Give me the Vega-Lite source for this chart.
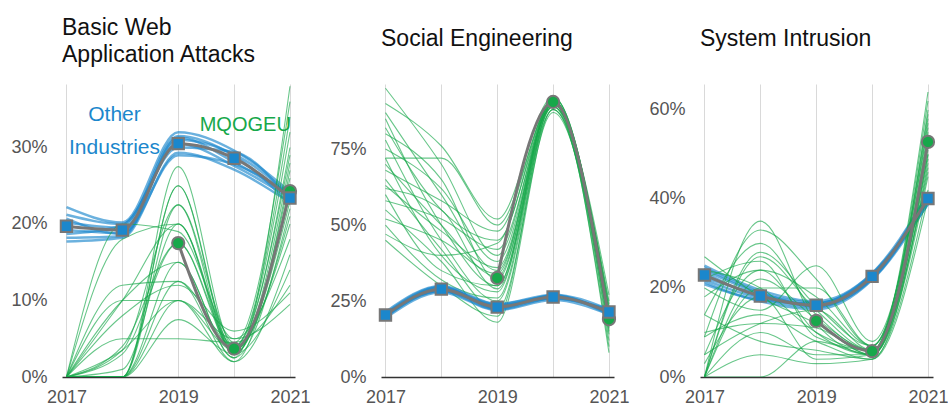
{
  "$schema": "https://vega.github.io/schema/vega-lite/v6.json",
  "padding": {"left": 10, "top": 17, "right": 5, "bottom": 5},
  "background": "white",
  "bounds": "flush",
  "spacing": 86,
  "config": {
    "view": {"stroke": null},
    "font": "Liberation Sans",
    "axis": {"labelFont": "Liberation Sans", "labelFontSize": 18, "labelColor": "#555555", "ticks": false, "domain": false, "grid": false, "title": null},
    "title": {"anchor": "start", "frame": "group", "fontSize": 23, "fontWeight": "normal", "color": "#111111", "font": "Liberation Sans", "lineHeight": 27}
  },
  "datasets": {
    "B": [
      {"s":"g","i":1,"x":2017,"y":0},{"s":"g","i":1,"x":2018,"y":0},{"s":"g","i":1,"x":2019,"y":27.5},{"s":"g","i":1,"x":2020,"y":4},{"s":"g","i":1,"x":2021,"y":34},
      {"s":"g","i":2,"x":2017,"y":0},{"s":"g","i":2,"x":2018,"y":0},{"s":"g","i":2,"x":2019,"y":25},{"s":"g","i":2,"x":2020,"y":3.5},{"s":"g","i":2,"x":2021,"y":30},
      {"s":"g","i":3,"x":2017,"y":0},{"s":"g","i":3,"x":2018,"y":0},{"s":"g","i":3,"x":2019,"y":22.5},{"s":"g","i":3,"x":2020,"y":3},{"s":"g","i":3,"x":2021,"y":28},
      {"s":"g","i":4,"x":2017,"y":0},{"s":"g","i":4,"x":2018,"y":3.5},{"s":"g","i":4,"x":2019,"y":22.5},{"s":"g","i":4,"x":2020,"y":4.5},{"s":"g","i":4,"x":2021,"y":36},
      {"s":"g","i":5,"x":2017,"y":0},{"s":"g","i":5,"x":2018,"y":10},{"s":"g","i":5,"x":2019,"y":20},{"s":"g","i":5,"x":2020,"y":3},{"s":"g","i":5,"x":2021,"y":26},
      {"s":"g","i":6,"x":2017,"y":0},{"s":"g","i":6,"x":2018,"y":4},{"s":"g","i":6,"x":2019,"y":17.5},{"s":"g","i":6,"x":2020,"y":3.5},{"s":"g","i":6,"x":2021,"y":24},
      {"s":"g","i":7,"x":2017,"y":0},{"s":"g","i":7,"x":2018,"y":10},{"s":"g","i":7,"x":2019,"y":15},{"s":"g","i":7,"x":2020,"y":2.5},{"s":"g","i":7,"x":2021,"y":22},
      {"s":"g","i":8,"x":2017,"y":0},{"s":"g","i":8,"x":2018,"y":0},{"s":"g","i":8,"x":2019,"y":12.5},{"s":"g","i":8,"x":2020,"y":4},{"s":"g","i":8,"x":2021,"y":20},
      {"s":"g","i":9,"x":2017,"y":0},{"s":"g","i":9,"x":2018,"y":3.5},{"s":"g","i":9,"x":2019,"y":10},{"s":"g","i":9,"x":2020,"y":5},{"s":"g","i":9,"x":2021,"y":18},
      {"s":"g","i":10,"x":2017,"y":0},{"s":"g","i":10,"x":2018,"y":18},{"s":"g","i":10,"x":2019,"y":20},{"s":"g","i":10,"x":2020,"y":4},{"s":"g","i":10,"x":2021,"y":32},
      {"s":"g","i":11,"x":2017,"y":0},{"s":"g","i":11,"x":2018,"y":12},{"s":"g","i":11,"x":2019,"y":12.5},{"s":"g","i":11,"x":2020,"y":2},{"s":"g","i":11,"x":2021,"y":16},
      {"s":"g","i":12,"x":2017,"y":0},{"s":"g","i":12,"x":2018,"y":5},{"s":"g","i":12,"x":2019,"y":5},{"s":"g","i":12,"x":2020,"y":4.5},{"s":"g","i":12,"x":2021,"y":12},
      {"s":"g","i":13,"x":2017,"y":0},{"s":"g","i":13,"x":2018,"y":0},{"s":"g","i":13,"x":2019,"y":7.5},{"s":"g","i":13,"x":2020,"y":3},{"s":"g","i":13,"x":2021,"y":14},
      {"s":"g","i":14,"x":2017,"y":0},{"s":"g","i":14,"x":2018,"y":10},{"s":"g","i":14,"x":2019,"y":10},{"s":"g","i":14,"x":2020,"y":3.5},{"s":"g","i":14,"x":2021,"y":21},
      {"s":"g","i":15,"x":2017,"y":0},{"s":"g","i":15,"x":2018,"y":0},{"s":"g","i":15,"x":2019,"y":15},{"s":"g","i":15,"x":2020,"y":2.5},{"s":"g","i":15,"x":2021,"y":38},
      {"s":"g","i":16,"x":2017,"y":0},{"s":"g","i":16,"x":2018,"y":20},{"s":"g","i":16,"x":2019,"y":19},{"s":"g","i":16,"x":2020,"y":5},{"s":"g","i":16,"x":2021,"y":9.5},
      {"s":"g","i":17,"x":2017,"y":0},{"s":"g","i":17,"x":2018,"y":8},{"s":"g","i":17,"x":2019,"y":12},{"s":"g","i":17,"x":2020,"y":6},{"s":"g","i":17,"x":2021,"y":11},
      {"s":"g","i":18,"x":2017,"y":0},{"s":"g","i":18,"x":2018,"y":0},{"s":"g","i":18,"x":2019,"y":25},{"s":"g","i":18,"x":2020,"y":3},{"s":"g","i":18,"x":2021,"y":25},
      {"s":"g","i":19,"x":2017,"y":0},{"s":"g","i":19,"x":2018,"y":3},{"s":"g","i":19,"x":2019,"y":17.5},{"s":"g","i":19,"x":2020,"y":4},{"s":"g","i":19,"x":2021,"y":29},
      {"s":"g","i":20,"x":2017,"y":0},{"s":"g","i":20,"x":2018,"y":1},{"s":"g","i":20,"x":2019,"y":20},{"s":"g","i":20,"x":2020,"y":3.5},{"s":"g","i":20,"x":2021,"y":23},
      {"s":"g","i":21,"x":2017,"y":0},{"s":"g","i":21,"x":2018,"y":0},{"s":"g","i":21,"x":2019,"y":10},{"s":"g","i":21,"x":2020,"y":2},{"s":"g","i":21,"x":2021,"y":27},
      {"s":"b","i":101,"x":2017,"y":22.2},{"s":"b","i":101,"x":2018,"y":20.2},{"s":"b","i":101,"x":2019,"y":32.0},{"s":"b","i":101,"x":2020,"y":29.6},{"s":"b","i":101,"x":2021,"y":24.2},
      {"s":"b","i":102,"x":2017,"y":17.7},{"s":"b","i":102,"x":2018,"y":18.2},{"s":"b","i":102,"x":2019,"y":29.3},{"s":"b","i":102,"x":2020,"y":27.1},{"s":"b","i":102,"x":2021,"y":22.8},
      {"s":"b","i":103,"x":2017,"y":20.7},{"s":"b","i":103,"x":2018,"y":18.7},{"s":"b","i":103,"x":2019,"y":31.3},{"s":"b","i":103,"x":2020,"y":28.1},{"s":"b","i":103,"x":2021,"y":23.7},
      {"s":"b","i":104,"x":2017,"y":18.7},{"s":"b","i":104,"x":2018,"y":19.8},{"s":"b","i":104,"x":2019,"y":30.0},{"s":"b","i":104,"x":2020,"y":29.4},{"s":"b","i":104,"x":2021,"y":23.1},
      {"s":"b","i":105,"x":2017,"y":20.2},{"s":"b","i":105,"x":2018,"y":19.5},{"s":"b","i":105,"x":2019,"y":31.5},{"s":"b","i":105,"x":2020,"y":28.9},{"s":"b","i":105,"x":2021,"y":22.6},
      {"s":"b","i":106,"x":2017,"y":19.2},{"s":"b","i":106,"x":2018,"y":18.8},{"s":"b","i":106,"x":2019,"y":29.0},{"s":"b","i":106,"x":2020,"y":27.8},{"s":"b","i":106,"x":2021,"y":24.0},
      {"s":"b","i":107,"x":2017,"y":21.2},{"s":"b","i":107,"x":2018,"y":20.0},{"s":"b","i":107,"x":2019,"y":30.5},{"s":"b","i":107,"x":2020,"y":27.6},{"s":"b","i":107,"x":2021,"y":23.4},
      {"s":"b","i":108,"x":2017,"y":18.2},{"s":"b","i":108,"x":2018,"y":18.4},{"s":"b","i":108,"x":2019,"y":31.0},{"s":"b","i":108,"x":2020,"y":29.1},{"s":"b","i":108,"x":2021,"y":23.9}
    ],
    "Bm": [
      {"s":"b","x":2017,"y":19.7},{"s":"b","x":2018,"y":19.2},{"s":"b","x":2019,"y":30.5},{"s":"b","x":2020,"y":28.6},{"s":"b","x":2021,"y":23.4},
      {"s":"g","x":2019,"y":17.5},{"s":"g","x":2020,"y":3.7},{"s":"g","x":2021,"y":24.3}
    ],
    "S": [
      {"s":"g","i":1,"x":2017,"y":95},{"s":"g","i":1,"x":2018,"y":70},{"s":"g","i":1,"x":2019,"y":40},{"s":"g","i":1,"x":2020,"y":91},{"s":"g","i":1,"x":2021,"y":15},
      {"s":"g","i":2,"x":2017,"y":90},{"s":"g","i":2,"x":2018,"y":76},{"s":"g","i":2,"x":2019,"y":52},{"s":"g","i":2,"x":2020,"y":92},{"s":"g","i":2,"x":2021,"y":20},
      {"s":"g","i":3,"x":2017,"y":87},{"s":"g","i":3,"x":2018,"y":60},{"s":"g","i":3,"x":2019,"y":35},{"s":"g","i":3,"x":2020,"y":90},{"s":"g","i":3,"x":2021,"y":18},
      {"s":"g","i":4,"x":2017,"y":85},{"s":"g","i":4,"x":2018,"y":50},{"s":"g","i":4,"x":2019,"y":30},{"s":"g","i":4,"x":2020,"y":89},{"s":"g","i":4,"x":2021,"y":22},
      {"s":"g","i":5,"x":2017,"y":82},{"s":"g","i":5,"x":2018,"y":55},{"s":"g","i":5,"x":2019,"y":45},{"s":"g","i":5,"x":2020,"y":91},{"s":"g","i":5,"x":2021,"y":12},
      {"s":"g","i":6,"x":2017,"y":78},{"s":"g","i":6,"x":2018,"y":45},{"s":"g","i":6,"x":2019,"y":25},{"s":"g","i":6,"x":2020,"y":88},{"s":"g","i":6,"x":2021,"y":25},
      {"s":"g","i":7,"x":2017,"y":75},{"s":"g","i":7,"x":2018,"y":62},{"s":"g","i":7,"x":2019,"y":38},{"s":"g","i":7,"x":2020,"y":90},{"s":"g","i":7,"x":2021,"y":17},
      {"s":"g","i":8,"x":2017,"y":72},{"s":"g","i":8,"x":2018,"y":40},{"s":"g","i":8,"x":2019,"y":28},{"s":"g","i":8,"x":2020,"y":92},{"s":"g","i":8,"x":2021,"y":20},
      {"s":"g","i":9,"x":2017,"y":70},{"s":"g","i":9,"x":2018,"y":50},{"s":"g","i":9,"x":2019,"y":33},{"s":"g","i":9,"x":2020,"y":89},{"s":"g","i":9,"x":2021,"y":10},
      {"s":"g","i":10,"x":2017,"y":68},{"s":"g","i":10,"x":2018,"y":58},{"s":"g","i":10,"x":2019,"y":48},{"s":"g","i":10,"x":2020,"y":91},{"s":"g","i":10,"x":2021,"y":23},
      {"s":"g","i":11,"x":2017,"y":65},{"s":"g","i":11,"x":2018,"y":42},{"s":"g","i":11,"x":2019,"y":22},{"s":"g","i":11,"x":2020,"y":87},{"s":"g","i":11,"x":2021,"y":19},
      {"s":"g","i":12,"x":2017,"y":63},{"s":"g","i":12,"x":2018,"y":48},{"s":"g","i":12,"x":2019,"y":36},{"s":"g","i":12,"x":2020,"y":90},{"s":"g","i":12,"x":2021,"y":16},
      {"s":"g","i":13,"x":2017,"y":60},{"s":"g","i":13,"x":2018,"y":35},{"s":"g","i":13,"x":2019,"y":30},{"s":"g","i":13,"x":2020,"y":91},{"s":"g","i":13,"x":2021,"y":21},
      {"s":"g","i":14,"x":2017,"y":58},{"s":"g","i":14,"x":2018,"y":52},{"s":"g","i":14,"x":2019,"y":42},{"s":"g","i":14,"x":2020,"y":89},{"s":"g","i":14,"x":2021,"y":27},
      {"s":"g","i":15,"x":2017,"y":55},{"s":"g","i":15,"x":2018,"y":38},{"s":"g","i":15,"x":2019,"y":18},{"s":"g","i":15,"x":2020,"y":88},{"s":"g","i":15,"x":2021,"y":14},
      {"s":"g","i":16,"x":2017,"y":52},{"s":"g","i":16,"x":2018,"y":45},{"s":"g","i":16,"x":2019,"y":34},{"s":"g","i":16,"x":2020,"y":92},{"s":"g","i":16,"x":2021,"y":19},
      {"s":"g","i":17,"x":2017,"y":50},{"s":"g","i":17,"x":2018,"y":32},{"s":"g","i":17,"x":2019,"y":26},{"s":"g","i":17,"x":2020,"y":90},{"s":"g","i":17,"x":2021,"y":8},
      {"s":"g","i":18,"x":2017,"y":47},{"s":"g","i":18,"x":2018,"y":40},{"s":"g","i":18,"x":2019,"y":44},{"s":"g","i":18,"x":2020,"y":89},{"s":"g","i":18,"x":2021,"y":24},
      {"s":"g","i":19,"x":2017,"y":45},{"s":"g","i":19,"x":2018,"y":30},{"s":"g","i":19,"x":2019,"y":20},{"s":"g","i":19,"x":2020,"y":90},{"s":"g","i":19,"x":2021,"y":18},
      {"s":"g","i":20,"x":2017,"y":80},{"s":"g","i":20,"x":2018,"y":65},{"s":"g","i":20,"x":2019,"y":32},{"s":"g","i":20,"x":2020,"y":91},{"s":"g","i":20,"x":2021,"y":20},
      {"s":"g","i":21,"x":2017,"y":72},{"s":"g","i":21,"x":2018,"y":72},{"s":"g","i":21,"x":2019,"y":50},{"s":"g","i":21,"x":2020,"y":90},{"s":"g","i":21,"x":2021,"y":22},
      {"s":"g","i":22,"x":2017,"y":62},{"s":"g","i":22,"x":2018,"y":55},{"s":"g","i":22,"x":2019,"y":29},{"s":"g","i":22,"x":2020,"y":88},{"s":"g","i":22,"x":2021,"y":17},
      {"s":"b","i":101,"x":2017,"y":21.4},{"s":"b","i":101,"x":2018,"y":29.9},{"s":"b","i":101,"x":2019,"y":24.0},{"s":"b","i":101,"x":2020,"y":27.1},{"s":"b","i":101,"x":2021,"y":22.2},
      {"s":"b","i":102,"x":2017,"y":19.4},{"s":"b","i":102,"x":2018,"y":27.9},{"s":"b","i":102,"x":2019,"y":22.0},{"s":"b","i":102,"x":2020,"y":25.3},{"s":"b","i":102,"x":2021,"y":20.6},
      {"s":"b","i":103,"x":2017,"y":20.9},{"s":"b","i":103,"x":2018,"y":28.4},{"s":"b","i":103,"x":2019,"y":23.6},{"s":"b","i":103,"x":2020,"y":25.8},{"s":"b","i":103,"x":2021,"y":21.9},
      {"s":"b","i":104,"x":2017,"y":19.9},{"s":"b","i":104,"x":2018,"y":29.5},{"s":"b","i":104,"x":2019,"y":22.5},{"s":"b","i":104,"x":2020,"y":26.9},{"s":"b","i":104,"x":2021,"y":20.9},
      {"s":"b","i":105,"x":2017,"y":20.6},{"s":"b","i":105,"x":2018,"y":29.2},{"s":"b","i":105,"x":2019,"y":23.9},{"s":"b","i":105,"x":2020,"y":26.6},{"s":"b","i":105,"x":2021,"y":20.5},
      {"s":"b","i":106,"x":2017,"y":20.1},{"s":"b","i":106,"x":2018,"y":28.3},{"s":"b","i":106,"x":2019,"y":22.2},{"s":"b","i":106,"x":2020,"y":25.9},{"s":"b","i":106,"x":2021,"y":22.3},
      {"s":"b","i":107,"x":2017,"y":21.0},{"s":"b","i":107,"x":2018,"y":29.7},{"s":"b","i":107,"x":2019,"y":22.8},{"s":"b","i":107,"x":2020,"y":26.0},{"s":"b","i":107,"x":2021,"y":21.7},
      {"s":"b","i":108,"x":2017,"y":19.7},{"s":"b","i":108,"x":2018,"y":28.6},{"s":"b","i":108,"x":2019,"y":23.3},{"s":"b","i":108,"x":2020,"y":26.7},{"s":"b","i":108,"x":2021,"y":21.0}
    ],
    "Sm": [
      {"s":"b","x":2017,"y":20.4},{"s":"b","x":2018,"y":28.9},{"s":"b","x":2019,"y":23.0},{"s":"b","x":2020,"y":26.3},{"s":"b","x":2021,"y":21.4},
      {"s":"g","x":2019,"y":32.6},{"s":"g","x":2020,"y":90.5},{"s":"g","x":2021,"y":19.0}
    ],
    "I": [
      {"s":"g","i":1,"x":2017,"y":0},{"s":"g","i":1,"x":2018,"y":35},{"s":"g","i":1,"x":2019,"y":12},{"s":"g","i":1,"x":2020,"y":5},{"s":"g","i":1,"x":2021,"y":60},
      {"s":"g","i":2,"x":2017,"y":0},{"s":"g","i":2,"x":2018,"y":27},{"s":"g","i":2,"x":2019,"y":15},{"s":"g","i":2,"x":2020,"y":6},{"s":"g","i":2,"x":2021,"y":55},
      {"s":"g","i":3,"x":2017,"y":5},{"s":"g","i":3,"x":2018,"y":24},{"s":"g","i":3,"x":2019,"y":10},{"s":"g","i":3,"x":2020,"y":5},{"s":"g","i":3,"x":2021,"y":50},
      {"s":"g","i":4,"x":2017,"y":0},{"s":"g","i":4,"x":2018,"y":20},{"s":"g","i":4,"x":2019,"y":20},{"s":"g","i":4,"x":2020,"y":7},{"s":"g","i":4,"x":2021,"y":58},
      {"s":"g","i":5,"x":2017,"y":9},{"s":"g","i":5,"x":2018,"y":14},{"s":"g","i":5,"x":2019,"y":8},{"s":"g","i":5,"x":2020,"y":4},{"s":"g","i":5,"x":2021,"y":48},
      {"s":"g","i":6,"x":2017,"y":14},{"s":"g","i":6,"x":2018,"y":30},{"s":"g","i":6,"x":2019,"y":14},{"s":"g","i":6,"x":2020,"y":6},{"s":"g","i":6,"x":2021,"y":62},
      {"s":"g","i":7,"x":2017,"y":0},{"s":"g","i":7,"x":2018,"y":10},{"s":"g","i":7,"x":2019,"y":5},{"s":"g","i":7,"x":2020,"y":5},{"s":"g","i":7,"x":2021,"y":45},
      {"s":"g","i":8,"x":2017,"y":18},{"s":"g","i":8,"x":2018,"y":24},{"s":"g","i":8,"x":2019,"y":18},{"s":"g","i":8,"x":2020,"y":7},{"s":"g","i":8,"x":2021,"y":52},
      {"s":"g","i":9,"x":2017,"y":20},{"s":"g","i":9,"x":2018,"y":15},{"s":"g","i":9,"x":2019,"y":25},{"s":"g","i":9,"x":2020,"y":8},{"s":"g","i":9,"x":2021,"y":56},
      {"s":"g","i":10,"x":2017,"y":27},{"s":"g","i":10,"x":2018,"y":18},{"s":"g","i":10,"x":2019,"y":12},{"s":"g","i":10,"x":2020,"y":5},{"s":"g","i":10,"x":2021,"y":54},
      {"s":"g","i":11,"x":2017,"y":0},{"s":"g","i":11,"x":2018,"y":5},{"s":"g","i":11,"x":2019,"y":3},{"s":"g","i":11,"x":2020,"y":4},{"s":"g","i":11,"x":2021,"y":42},
      {"s":"g","i":12,"x":2017,"y":5},{"s":"g","i":12,"x":2018,"y":12},{"s":"g","i":12,"x":2019,"y":15},{"s":"g","i":12,"x":2020,"y":6},{"s":"g","i":12,"x":2021,"y":50},
      {"s":"g","i":13,"x":2017,"y":24},{"s":"g","i":13,"x":2018,"y":20},{"s":"g","i":13,"x":2019,"y":10},{"s":"g","i":13,"x":2020,"y":6},{"s":"g","i":13,"x":2021,"y":64},
      {"s":"g","i":14,"x":2017,"y":9},{"s":"g","i":14,"x":2018,"y":33},{"s":"g","i":14,"x":2019,"y":22},{"s":"g","i":14,"x":2020,"y":7},{"s":"g","i":14,"x":2021,"y":53},
      {"s":"g","i":15,"x":2017,"y":0},{"s":"g","i":15,"x":2018,"y":0},{"s":"g","i":15,"x":2019,"y":8},{"s":"g","i":15,"x":2020,"y":5},{"s":"g","i":15,"x":2021,"y":47},
      {"s":"g","i":16,"x":2017,"y":14},{"s":"g","i":16,"x":2018,"y":8},{"s":"g","i":16,"x":2019,"y":6},{"s":"g","i":16,"x":2020,"y":4},{"s":"g","i":16,"x":2021,"y":40},
      {"s":"g","i":17,"x":2017,"y":0},{"s":"g","i":17,"x":2018,"y":22},{"s":"g","i":17,"x":2019,"y":13},{"s":"g","i":17,"x":2020,"y":6},{"s":"g","i":17,"x":2021,"y":57},
      {"s":"g","i":18,"x":2017,"y":3},{"s":"g","i":18,"x":2018,"y":18},{"s":"g","i":18,"x":2019,"y":4},{"s":"g","i":18,"x":2020,"y":5},{"s":"g","i":18,"x":2021,"y":49},
      {"s":"g","i":19,"x":2017,"y":0},{"s":"g","i":19,"x":2018,"y":28},{"s":"g","i":19,"x":2019,"y":16},{"s":"g","i":19,"x":2020,"y":7},{"s":"g","i":19,"x":2021,"y":59},
      {"s":"g","i":20,"x":2017,"y":10},{"s":"g","i":20,"x":2018,"y":12},{"s":"g","i":20,"x":2019,"y":11},{"s":"g","i":20,"x":2020,"y":5},{"s":"g","i":20,"x":2021,"y":51},
      {"s":"g","i":21,"x":2017,"y":22},{"s":"g","i":21,"x":2018,"y":26},{"s":"g","i":21,"x":2019,"y":9},{"s":"g","i":21,"x":2020,"y":6},{"s":"g","i":21,"x":2021,"y":46},
      {"s":"b","i":101,"x":2017,"y":25.0},{"s":"b","i":101,"x":2018,"y":19.5},{"s":"b","i":101,"x":2019,"y":17.0},{"s":"b","i":101,"x":2020,"y":23.3},{"s":"b","i":101,"x":2021,"y":41.0},
      {"s":"b","i":102,"x":2017,"y":20.8},{"s":"b","i":102,"x":2018,"y":17.0},{"s":"b","i":102,"x":2019,"y":15.2},{"s":"b","i":102,"x":2020,"y":21.8},{"s":"b","i":102,"x":2021,"y":39.0},
      {"s":"b","i":103,"x":2017,"y":24.0},{"s":"b","i":103,"x":2018,"y":18.8},{"s":"b","i":103,"x":2019,"y":16.7},{"s":"b","i":103,"x":2020,"y":22.1},{"s":"b","i":103,"x":2021,"y":40.6},
      {"s":"b","i":104,"x":2017,"y":21.8},{"s":"b","i":104,"x":2018,"y":17.6},{"s":"b","i":104,"x":2019,"y":15.6},{"s":"b","i":104,"x":2020,"y":23.0},{"s":"b","i":104,"x":2021,"y":39.5},
      {"s":"b","i":105,"x":2017,"y":23.5},{"s":"b","i":105,"x":2018,"y":18.0},{"s":"b","i":105,"x":2019,"y":16.4},{"s":"b","i":105,"x":2020,"y":22.9},{"s":"b","i":105,"x":2021,"y":38.8},
      {"s":"b","i":106,"x":2017,"y":22.3},{"s":"b","i":106,"x":2018,"y":18.5},{"s":"b","i":106,"x":2019,"y":15.8},{"s":"b","i":106,"x":2020,"y":22.3},{"s":"b","i":106,"x":2021,"y":41.3},
      {"s":"b","i":107,"x":2017,"y":24.5},{"s":"b","i":107,"x":2018,"y":19.0},{"s":"b","i":107,"x":2019,"y":16.0},{"s":"b","i":107,"x":2020,"y":22.0},{"s":"b","i":107,"x":2021,"y":40.0},
      {"s":"b","i":108,"x":2017,"y":21.3},{"s":"b","i":108,"x":2018,"y":17.3},{"s":"b","i":108,"x":2019,"y":16.5},{"s":"b","i":108,"x":2020,"y":23.2},{"s":"b","i":108,"x":2021,"y":39.8}
    ],
    "Im": [
      {"s":"b","x":2017,"y":22.9},{"s":"b","x":2018,"y":18.2},{"s":"b","x":2019,"y":16.1},{"s":"b","x":2020,"y":22.6},{"s":"b","x":2021,"y":40.1},
      {"s":"g","x":2019,"y":12.6},{"s":"g","x":2020,"y":5.8},{"s":"g","x":2021,"y":52.8}
    ],
    "labelsBlue": [{"t":"Other","x":2017.86,"y":34.2},{"t":"Industries","x":2017.86,"y":29.9}],
    "labelsGreen": [{"t":"MQOGEU","x":2020.2,"y":32.9}]
  },
  "hconcat": [
    {
      "width": 233, "height": 293,
      "title": {"text": ["Basic Web", "Application Attacks"], "offset": 17},
      "encoding": {
        "x": {"field": "x", "type": "quantitative", "scale": {"domain": [2016.92, 2021.09], "nice": false, "zero": false},
              "axis": {"values": [2017, 2018, 2019, 2020, 2021], "format": "d", "grid": true, "gridColor": "#d9d9d9", "domain": true, "domainColor": "#333333", "domainWidth": 1.5, "labelPadding": 11, "labelExpr": "datum.value % 2 == 1 ? datum.label : ''"}},
        "y": {"field": "y", "type": "quantitative", "scale": {"domain": [0, 38.3], "nice": false},
              "axis": {"values": [0, 10, 20, 30], "labelPadding": 15, "labelExpr": "datum.value + '%'"}}
      },
      "layer": [
        {"data": {"name": "B"}, "transform": [{"filter": "datum.s == 'b'"}], "mark": {"type": "line", "interpolate": "monotone", "strokeWidth": 2.5, "opacity": 0.65, "color": "#1b87cc", "clip": true}, "encoding": {"detail": {"field": "i"}}},
        {"data": {"name": "B"}, "transform": [{"filter": "datum.s == 'g'"}], "mark": {"type": "line", "interpolate": "monotone", "strokeWidth": 1.1, "opacity": 0.65, "color": "#17a84a", "clip": true}, "encoding": {"detail": {"field": "i"}}},
        {"data": {"name": "Bm"}, "transform": [{"filter": "datum.s == 'b'"}], "mark": {"type": "line", "interpolate": "monotone", "strokeWidth": 3, "color": "#777777"}, "encoding": {}},
        {"data": {"name": "Bm"}, "transform": [{"filter": "datum.s == 'g'"}], "mark": {"type": "line", "interpolate": "monotone", "strokeWidth": 3, "color": "#777777"}, "encoding": {}},
        {"data": {"name": "Bm"}, "transform": [{"filter": "datum.s == 'g'"}], "mark": {"type": "point", "shape": "circle", "filled": true, "fill": "#17a84a", "stroke": "#777777", "strokeWidth": 2, "size": 150, "opacity": 1}, "encoding": {}},
        {"data": {"name": "Bm"}, "transform": [{"filter": "datum.s == 'b'"}], "mark": {"type": "point", "shape": "square", "filled": true, "fill": "#1b87cc", "stroke": "#777777", "strokeWidth": 2, "size": 130, "opacity": 1}, "encoding": {}},
        {"data": {"name": "labelsBlue"}, "mark": {"type": "text", "fontSize": 21, "color": "#1b87cc", "align": "center", "baseline": "middle", "font": "Liberation Sans"}, "encoding": {"text": {"field": "t"}}},
        {"data": {"name": "labelsGreen"}, "mark": {"type": "text", "fontSize": 20, "color": "#17a84a", "align": "center", "baseline": "middle", "font": "Liberation Sans"}, "encoding": {"text": {"field": "t"}}}
      ]
    },
    {
      "width": 233, "height": 293,
      "title": {"text": "Social Engineering", "offset": 33},
      "encoding": {
        "x": {"field": "x", "type": "quantitative", "scale": {"domain": [2016.92, 2021.09], "nice": false, "zero": false},
              "axis": {"values": [2017, 2018, 2019, 2020, 2021], "format": "d", "grid": true, "gridColor": "#d9d9d9", "domain": true, "domainColor": "#333333", "domainWidth": 1.5, "labelPadding": 11, "labelExpr": "datum.value % 2 == 1 ? datum.label : ''"}},
        "y": {"field": "y", "type": "quantitative", "scale": {"domain": [0, 96.4], "nice": false},
              "axis": {"values": [0, 25, 50, 75], "labelPadding": 15, "labelExpr": "datum.value + '%'"}}
      },
      "layer": [
        {"data": {"name": "S"}, "transform": [{"filter": "datum.s == 'g'"}], "mark": {"type": "line", "interpolate": "monotone", "strokeWidth": 1.1, "opacity": 0.65, "color": "#17a84a", "clip": true}, "encoding": {"detail": {"field": "i"}}},
        {"data": {"name": "S"}, "transform": [{"filter": "datum.s == 'b'"}], "mark": {"type": "line", "interpolate": "monotone", "strokeWidth": 2.5, "opacity": 0.65, "color": "#1b87cc", "clip": true}, "encoding": {"detail": {"field": "i"}}},
        {"data": {"name": "Sm"}, "transform": [{"filter": "datum.s == 'b'"}], "mark": {"type": "line", "interpolate": "monotone", "strokeWidth": 3, "color": "#777777"}, "encoding": {}},
        {"data": {"name": "Sm"}, "transform": [{"filter": "datum.s == 'g'"}], "mark": {"type": "line", "interpolate": "monotone", "strokeWidth": 3, "color": "#777777"}, "encoding": {}},
        {"data": {"name": "Sm"}, "transform": [{"filter": "datum.s == 'g'"}], "mark": {"type": "point", "shape": "circle", "filled": true, "fill": "#17a84a", "stroke": "#777777", "strokeWidth": 2, "size": 150, "opacity": 1}, "encoding": {}},
        {"data": {"name": "Sm"}, "transform": [{"filter": "datum.s == 'b'"}], "mark": {"type": "point", "shape": "square", "filled": true, "fill": "#1b87cc", "stroke": "#777777", "strokeWidth": 2, "size": 130, "opacity": 1}, "encoding": {}}
      ]
    },
    {
      "width": 233, "height": 293,
      "title": {"text": "System Intrusion", "offset": 33},
      "encoding": {
        "x": {"field": "x", "type": "quantitative", "scale": {"domain": [2016.92, 2021.09], "nice": false, "zero": false},
              "axis": {"values": [2017, 2018, 2019, 2020, 2021], "format": "d", "grid": true, "gridColor": "#d9d9d9", "domain": true, "domainColor": "#333333", "domainWidth": 1.5, "labelPadding": 11, "labelExpr": "datum.value % 2 == 1 ? datum.label : ''"}},
        "y": {"field": "y", "type": "quantitative", "scale": {"domain": [0, 65.8], "nice": false},
              "axis": {"values": [0, 20, 40, 60], "labelPadding": 15, "labelExpr": "datum.value + '%'"}}
      },
      "layer": [
        {"data": {"name": "I"}, "transform": [{"filter": "datum.s == 'b'"}], "mark": {"type": "line", "interpolate": "monotone", "strokeWidth": 2.5, "opacity": 0.65, "color": "#1b87cc", "clip": true}, "encoding": {"detail": {"field": "i"}}},
        {"data": {"name": "I"}, "transform": [{"filter": "datum.s == 'g'"}], "mark": {"type": "line", "interpolate": "monotone", "strokeWidth": 1.1, "opacity": 0.65, "color": "#17a84a", "clip": true}, "encoding": {"detail": {"field": "i"}}},
        {"data": {"name": "Im"}, "transform": [{"filter": "datum.s == 'b'"}], "mark": {"type": "line", "interpolate": "monotone", "strokeWidth": 3, "color": "#777777"}, "encoding": {}},
        {"data": {"name": "Im"}, "transform": [{"filter": "datum.s == 'g'"}], "mark": {"type": "line", "interpolate": "monotone", "strokeWidth": 3, "color": "#777777"}, "encoding": {}},
        {"data": {"name": "Im"}, "transform": [{"filter": "datum.s == 'g'"}], "mark": {"type": "point", "shape": "circle", "filled": true, "fill": "#17a84a", "stroke": "#777777", "strokeWidth": 2, "size": 150, "opacity": 1}, "encoding": {}},
        {"data": {"name": "Im"}, "transform": [{"filter": "datum.s == 'b'"}], "mark": {"type": "point", "shape": "square", "filled": true, "fill": "#1b87cc", "stroke": "#777777", "strokeWidth": 2, "size": 130, "opacity": 1}, "encoding": {}}
      ]
    }
  ]
}
